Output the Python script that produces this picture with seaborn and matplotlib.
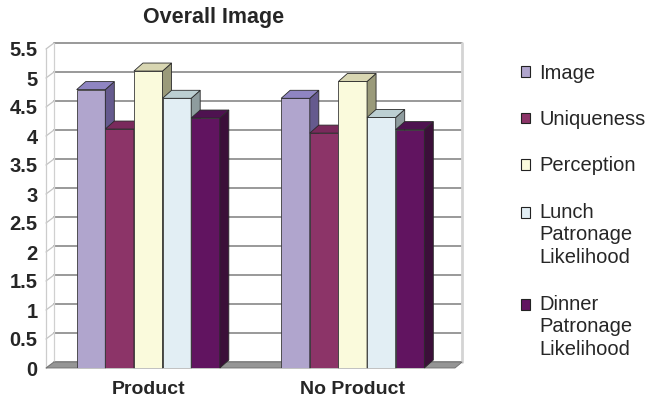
import numpy as np
import pandas as pd
import matplotlib
matplotlib.use("Agg")
import matplotlib.pyplot as plt
from matplotlib.patches import Polygon, Rectangle
from matplotlib.legend_handler import HandlerPatch
import seaborn as sns

# data
groups = ["Product", "No Product"]
measures = ["Image", "Uniqueness", "Perception",
            "Lunch Patronage Likelihood", "Dinner Patronage Likelihood"]
product_vals = [4.80, 4.12, 5.12, 4.65, 4.31]
no_product_vals = [4.65, 4.05, 4.94, 4.32, 4.11]
yticks = np.arange(0, 5.51, 0.5)

df = pd.DataFrame({
    "group": np.repeat(groups, len(measures)),
    "measure": measures * 2,
    "score": product_vals + no_product_vals,
})

front_cols = ["#b0a5cd", "#8c3468", "#fafadc", "#e2eef4", "#611460"]
side_cols = ["#655a8e", "#6a2450", "#9a9a7a", "#8e9c9e", "#3b0f39"]
top_cols = ["#8f85c2", "#7a2a5c", "#d8d6b2", "#bccfd2", "#4e1250"]

sns.set_style("white")
plt.rcParams["font.family"] = ["Liberation Sans", "DejaVu Sans"]

fig = plt.figure(figsize=(6.51, 4.0), dpi=100)
ax_l, ax_b, ax_w, ax_h = 46 / 651, 32 / 400, 409 / 651, 319 / 400
ax = fig.add_axes([ax_l, ax_b, ax_w, ax_h])
W, H = ax_w * 651, ax_h * 400  # axes size in px

sns.barplot(data=df, x="group", y="score", hue="measure", hue_order=measures,
            palette=front_cols, width=0.7, edgecolor="#3a3a3a", linewidth=0.6,
            saturation=1, ax=ax, legend=True)
ax.set_xlim(-0.5, 1.5)
ax.set_ylim(0, 5.5)

# pixel offsets for the pseudo 3-D look
wall_dx, wall_dy = 8 / W, 6 / H
bar_dx, bar_dy = 9 / W, 8 / H

# back wall grid, left wall and floor
for v in yticks:
    yy = v / 5.5
    ax.plot([wall_dx, 1 + wall_dx * 0.9], [yy + wall_dy, yy + wall_dy],
            transform=ax.transAxes, color="#999999", lw=1.4, zorder=1, clip_on=False)
    ax.plot([0, wall_dx], [yy, yy + wall_dy], transform=ax.transAxes,
            color="#c4c4c4", lw=0.9, zorder=1, clip_on=False)
ax.plot([0, 0], [0, 1], transform=ax.transAxes, color="#cccccc", lw=0.9,
        zorder=1, clip_on=False)
ax.plot([wall_dx, wall_dx], [wall_dy, 1 + wall_dy], transform=ax.transAxes,
        color="#d0d0d0", lw=0.9, zorder=1, clip_on=False)
ax.plot([1 + wall_dx * 0.9] * 2, [wall_dy, 1 + wall_dy], transform=ax.transAxes,
        color="#d4d4d4", lw=2, zorder=1, clip_on=False)
floor = Polygon([[0, 0], [1, 0], [1 + wall_dx * 0.9, wall_dy], [wall_dx, wall_dy]],
                closed=True, transform=ax.transAxes, facecolor="#959595",
                edgecolor="#6e6e6e", lw=0.6, zorder=1.5, clip_on=False)
ax.add_patch(floor)

# side and top faces of each bar
bars = []
for k, cont in enumerate(ax.containers):
    for p in cont.patches:
        bars.append((p.get_x(), p, k))
bars.sort(key=lambda t: t[0])
for i, (x, p, k) in enumerate(bars):
    z = 3 + i * 0.01
    p.set_zorder(z)
    (x0, y0), (x1, y1) = ax.transLimits.transform(
        [(p.get_x(), 0), (p.get_x() + p.get_width(), p.get_height())])
    side = Polygon([[x1, y0], [x1 + bar_dx, y0 + bar_dy], [x1 + bar_dx, y1 + bar_dy], [x1, y1]],
                   closed=True, transform=ax.transAxes, facecolor=side_cols[k],
                   edgecolor="#2a2a2a", lw=0.6, zorder=z, clip_on=False)
    top = Polygon([[x0, y1], [x1, y1], [x1 + bar_dx, y1 + bar_dy], [x0 + bar_dx, y1 + bar_dy]],
                  closed=True, transform=ax.transAxes, facecolor=top_cols[k],
                  edgecolor="#2a2a2a", lw=0.6, zorder=z, clip_on=False)
    ax.add_patch(side)
    ax.add_patch(top)

sns.despine(ax=ax, left=True, bottom=True)
ax.set_xlabel("")
ax.set_ylabel("")
ax.set_yticks(yticks)
ax.set_yticklabels([f"{v:g}" for v in yticks], fontsize=14.5, fontweight="bold")
ax.tick_params(axis="y", length=0, pad=6)
ax.tick_params(axis="x", length=0, pad=9, labelsize=14)
for t in ax.get_xticklabels():
    t.set_fontweight("bold")

fig.text(214 / 651, 1 - 17 / 400, "Overall Image", ha="center", va="center",
         fontsize=15.5, fontweight="bold")

handles, _ = ax.get_legend_handles_labels()
leg_labels = ["Image", "Uniqueness", "Perception",
              "Lunch\nPatronage\nLikelihood", "Dinner\nPatronage\nLikelihood"]
ax.get_legend().remove()
for h in handles:
    h.set_edgecolor("#222222")
    h.set_linewidth(0.8)

line_pitch = 16.6  # points between label lines


def first_line_handler(nlines):
    shift = (nlines - 1) / 2 * line_pitch

    def make(legend, orig_handle, xdescent, ydescent, width, height, fontsize):
        return Rectangle((-xdescent, -ydescent + shift), width, height)
    return HandlerPatch(patch_func=make)


hmap = {h: first_line_handler(lab.count("\n") + 1) for h, lab in zip(handles, leg_labels)}
leg = fig.legend(handles, leg_labels, handler_map=hmap, loc="upper left",
                 bbox_to_anchor=(521 / 651, 1 - 64 / 400), frameon=False,
                 fontsize=14.5, handlelength=0.45, handleheight=0.45,
                 handletextpad=0.45, labelspacing=1.35, borderpad=0, borderaxespad=0)
for t in leg.get_texts():
    t.set_linespacing(1.26)

fig.savefig("out.png", dpi=100)
